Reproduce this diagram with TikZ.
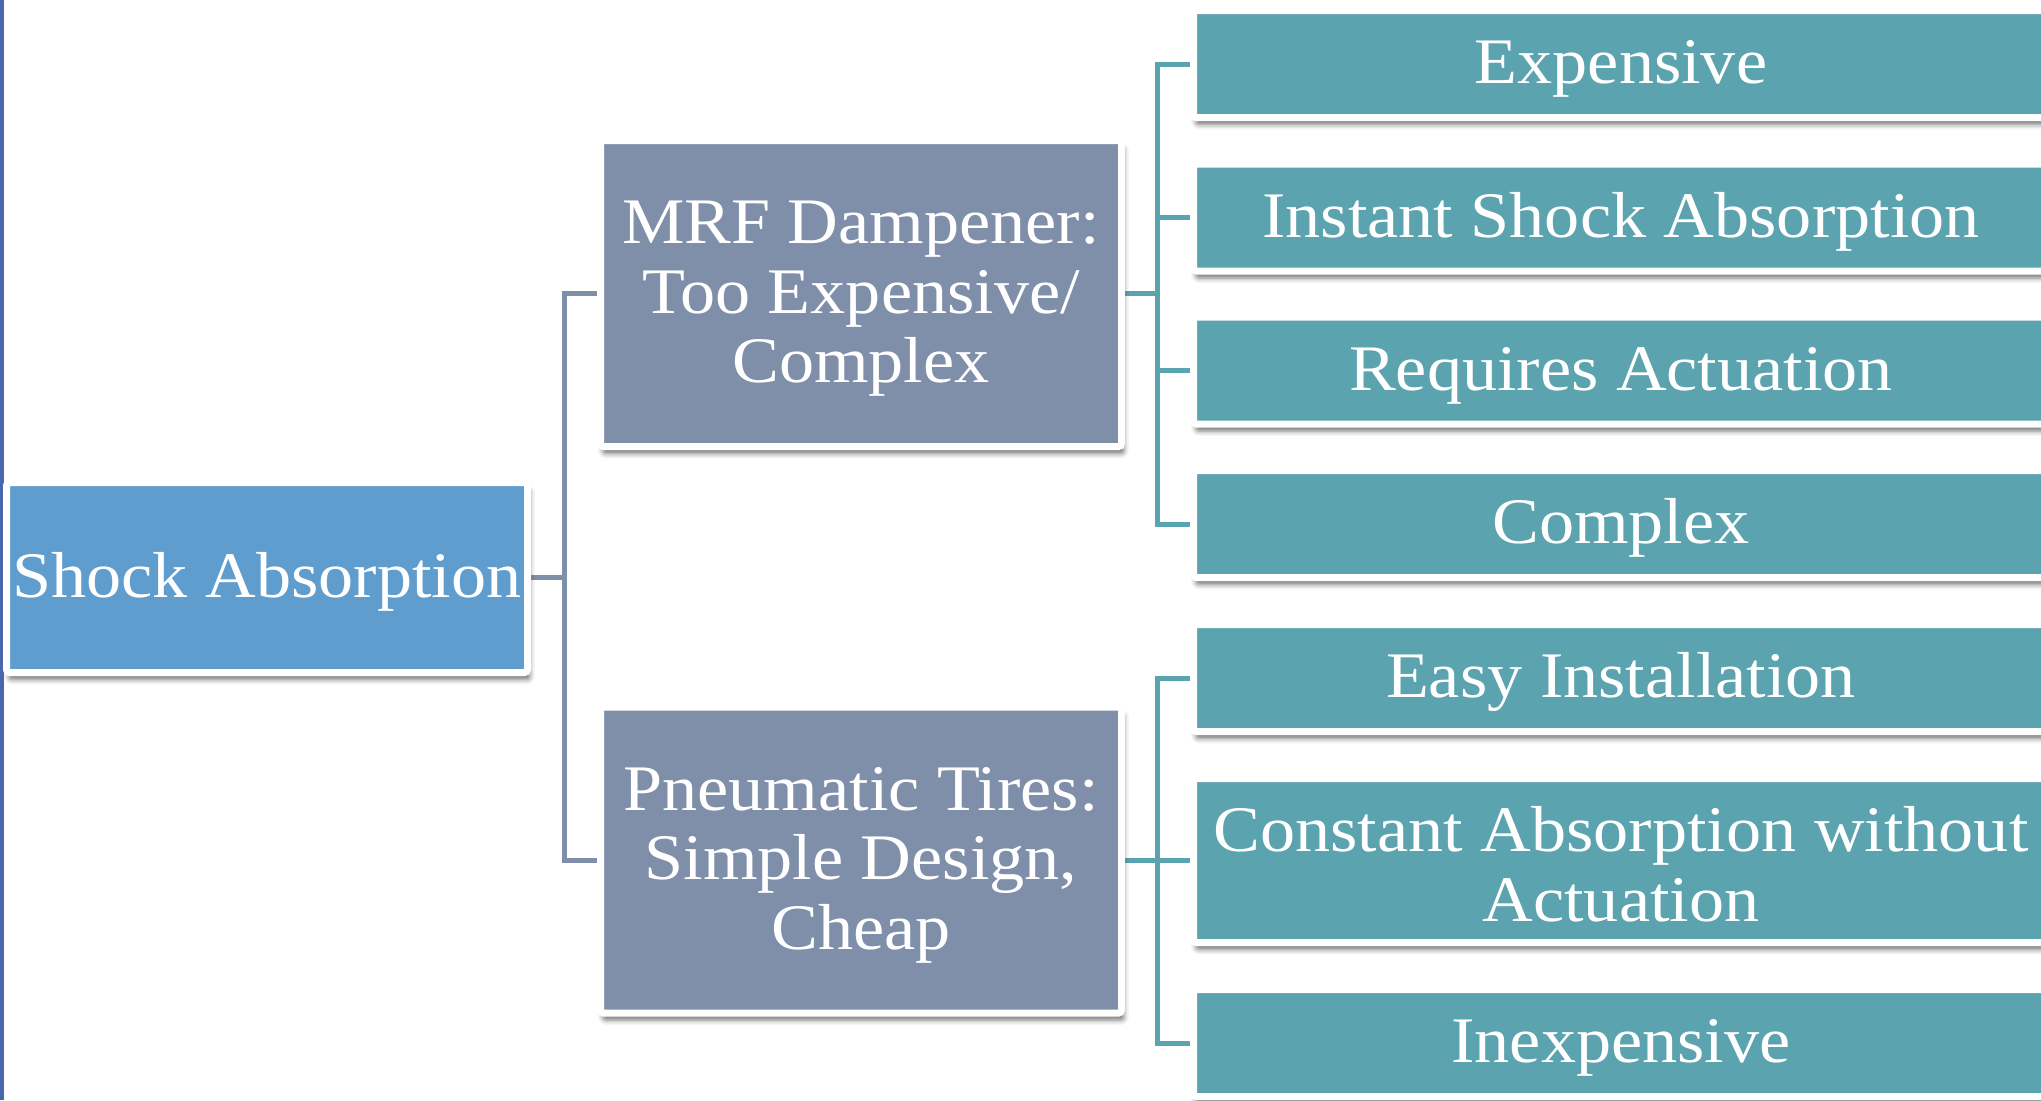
\documentclass[tikz,border=0pt]{standalone}
\usepackage{fontspec}
\setmainfont{Liberation Serif}[FakeStretch=1.08]
\usetikzlibrary{shadows.blur,backgrounds}
\definecolor{rootblue}{RGB}{96,157,207}
\definecolor{midgray}{RGB}{127,143,169}
\definecolor{leafteal}{RGB}{91,163,175}
\definecolor{barblue}{RGB}{74,103,174}
\newcommand{\tup}{\rule{0pt}{26.5pt}}
\tikzset{
  boxbase/.style={draw=white, line width=3.5pt, rounded corners=1.5pt, inner sep=0pt,
    text=white, align=center,
    font=\fontsize{32.5}{34.8}\selectfont,
    blur shadow={shadow xshift=1.2pt, shadow yshift=-3.5pt, shadow blur radius=2.5pt, shadow opacity=55}},
  rootbox/.style={boxbase, fill=rootblue, minimum width=260.5pt, minimum height=95pt},
  midbox/.style={boxbase, fill=midgray, minimum width=260.5pt, minimum height=153pt},
  leafbox/.style={boxbase, fill=leafteal, minimum width=427.5pt, minimum height=53.5pt},
  tallleaf/.style={leafbox, minimum height=82pt},
  conn1/.style={draw=midgray, line width=2.5pt},
  conn2/.style={draw=leafteal, line width=2.5pt}
}
\begin{document}
\begin{tikzpicture}[x=0.5pt, y=-0.5pt]
\useasboundingbox (0,0) rectangle (2041,1100);
\clip (0,0) rectangle (2041,1100);
\fill[barblue] (0,0) rectangle (4,1100);

\node[rootbox] (root) at (267,577.5) {\tup Shock Absorption};
\node[midbox] (mrf) at (861,293.5) {\tup MRF Dampener:\\Too Expensive/\\Complex};
\node[midbox] (pneu) at (861,860) {\tup Pneumatic Tires:\\Simple Design,\\Cheap};

\node[leafbox] (l1) at (1621,64) {\tup Expensive};
\node[leafbox] (l2) at (1621,217.5) {\tup Instant Shock Absorption};
\node[leafbox] (l3) at (1621,370.5) {\tup Requires Actuation};
\node[leafbox] (l4) at (1621,524) {\tup Complex};
\node[leafbox] (l5) at (1621,678) {\tup Easy Installation};
\node[tallleaf] (l6) at (1621,860.5) {\tup Constant Absorption without\\Actuation};
\node[leafbox] (l7) at (1621,1043) {\tup Inexpensive};

\coordinate (j1) at (564,577.5);
\coordinate (j2) at (1157,293.5);
\coordinate (j3) at (1157,860);

\begin{pgfonlayer}{background}
\draw[conn1] (root.east) -- (j1);
\draw[conn1] (j1) |- (mrf.west);
\draw[conn1] (j1) |- (pneu.west);
\draw[conn2] (mrf.east) -- (j2);
\foreach \l in {l1,l2,l3,l4} \draw[conn2] (j2) |- (\l.west);
\draw[conn2] (pneu.east) -- (j3);
\foreach \l in {l5,l6,l7} \draw[conn2] (j3) |- (\l.west);
\end{pgfonlayer}
\end{tikzpicture}
\end{document}
